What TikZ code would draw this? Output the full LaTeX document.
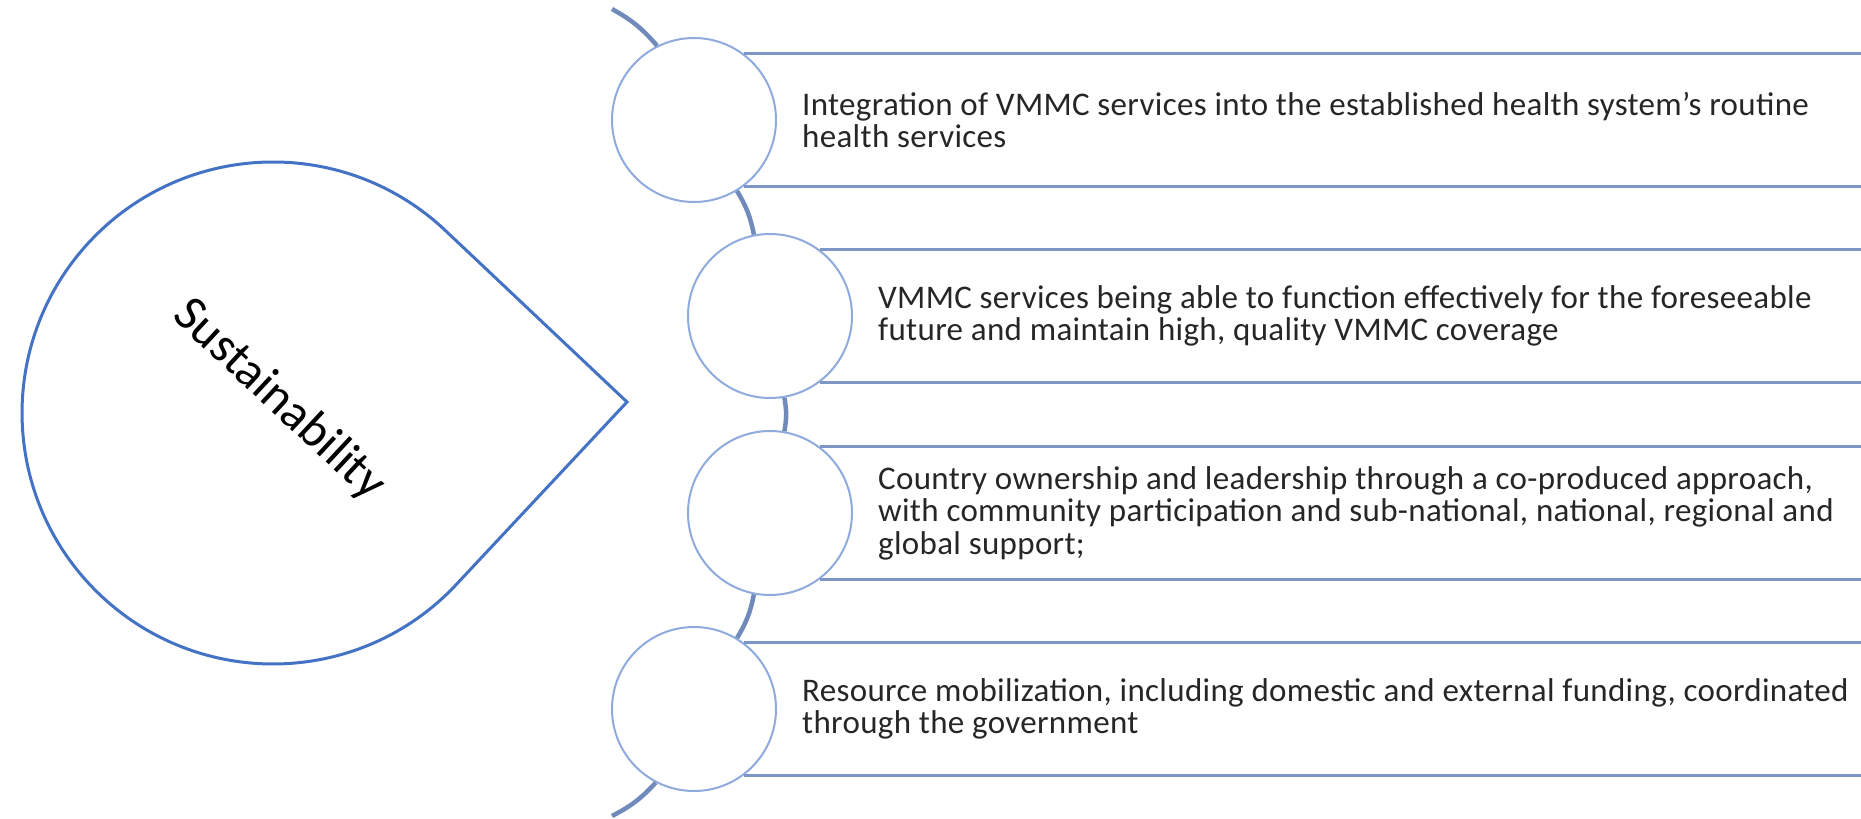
\documentclass[tikz,border=0pt]{standalone}
\usepackage{fontspec}
\setmainfont{Carlito}
\newfontfamily\itemfont[LetterSpace=1]{Carlito}
\usetikzlibrary{positioning}
\definecolor{dropblue}{RGB}{68,114,196}
\definecolor{ringblue}{RGB}{143,170,220}
\definecolor{bandblue}{RGB}{124,150,200}
\definecolor{linkblue}{RGB}{112,138,188}

\begin{document}
\begin{tikzpicture}[x=1pt, y=-1pt,
        ring/.style = {circle, draw = ringblue, line width = 2pt, fill = white, minimum size = 164pt, inner sep = 0pt},
        band/.style = {draw = bandblue, line width = 2.5pt},
        link/.style = {draw = linkblue, line width = 4.5pt, bend left = 10},
        item/.style = {inner sep = 0pt, align = left, text = black!85, font = \itemfont\fontsize{33}{32.5}\selectfont}]
    \useasboundingbox (0,0) rectangle (1861,819);

    % the drop on the left
    \draw[dropblue, line width = 3pt] (627,402) -- (456,584.8) arc[start angle = 43.2, end angle = 313.2, radius = 251] -- cycle;
    \node[rotate = -43, font = \fontsize{50}{50}\selectfont] (sust) at (279,400) {Sustainability};

    % circles on the arc
    \node[ring] (c1) at (694,120) {};
    \node[ring] (c2) at (770,316) {};
    \node[ring] (c3) at (770,513) {};
    \node[ring] (c4) at (694,709) {};
    \coordinate (arctop) at (612,9);
    \coordinate (arcbot) at (612,816);
    \coordinate (rim) at (1861,0);

    \draw[link] (arctop) to (c1);
    \draw[link] (c1) to (c2);
    \draw[link] (c2) to (c3);
    \draw[link] (c3) to (c4);
    \draw[link] (c4) to (arcbot);

    % bands
    \foreach \c in {c1,c2,c3,c4} {
        \draw[band] (\c.53) -- (\c.53 -| rim);
        \draw[band] (\c.-53) -- (\c.-53 -| rim);
    }

    \node[item, right = 25pt of c1] (t1) {Integration of VMMC services into the established health system’s routine\\health services};
    \node[item, right = 25pt of c2] (t2) {VMMC services being able to function effectively for the foreseeable\\future and maintain high, quality VMMC coverage};
    \node[item, right = 25pt of c3] (t3) {Country ownership and leadership through a co-produced approach,\\with community participation and sub-national, national, regional and\\global support;};
    \node[item, right = 25pt of c4] (t4) {Resource mobilization, including domestic and external funding, coordinated\\through the government};
\end{tikzpicture}
\end{document}
